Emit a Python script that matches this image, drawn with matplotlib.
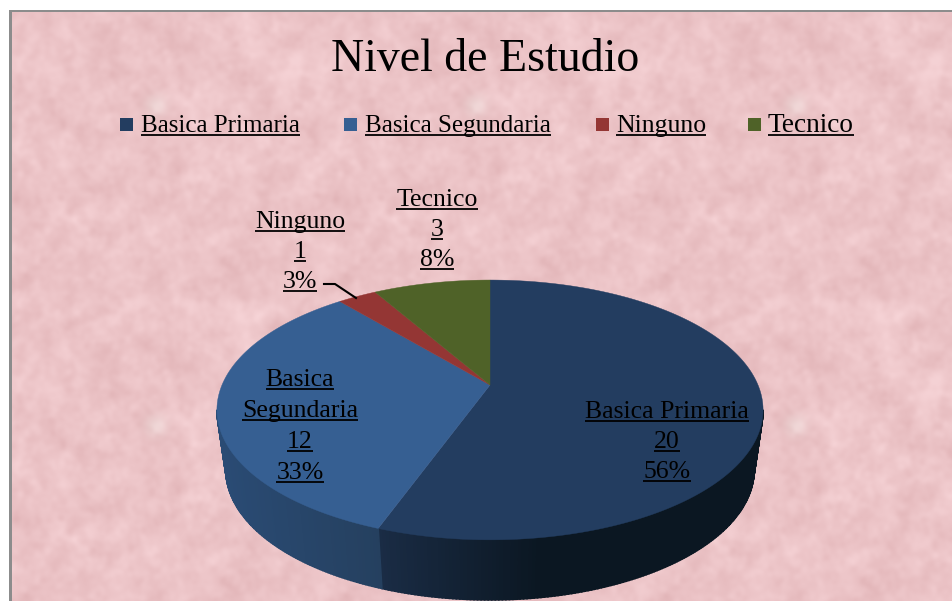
import numpy as np
import matplotlib
matplotlib.use("Agg")
import matplotlib.pyplot as plt
from matplotlib.patches import Polygon, Rectangle
from matplotlib.colors import to_rgb

categories = ["Basica Primaria", "Basica Segundaria", "Ninguno", "Tecnico"]
counts = [20, 12, 1, 3]
title_text = "Nivel de Estudio"

top_colors = ["#233D60", "#365F92", "#943634", "#4F6228"]
side_left = ["#1A2C45", "#2A4B74", "#6E2826", "#3A491E"]
side_right = ["#0B1722", "#25405F", "#6E2826", "#3A491E"]
legend_square_x = [120, 344, 596, 748]
legend_text_x = [141, 365, 616, 768]
legend_sizes = [18, 18.1, 18.5, 19.6]
label_lines = [["Basica Primaria"], ["Basica", "Segundaria"], ["Ninguno"], ["Tecnico"]]
label_x = [667, 300, 300, 437]
label_base_y = [418, 386, 228, 206]
label_step = [30, 31, 30, 30]

plt.rcParams["font.family"] = ["Liberation Serif", "DejaVu Serif"]
W, H = 952, 601
fig = plt.figure(figsize=(W / 100, H / 100), dpi=100, facecolor="white")
ax = fig.add_axes([0, 0, 1, 1])
ax.set_axis_off()


def smooth(rng, n, sigma):
    f = np.fft.fftfreq(n)
    fx, fy = np.meshgrid(f, f)
    g = np.exp(-2 * (np.pi * sigma) ** 2 * (fx ** 2 + fy ** 2))
    a = np.fft.ifft2(np.fft.fft2(rng.standard_normal((n, n))) * g).real
    return a / a.std()


# decorative paper texture, a 320 px tile like the reference background
rng = np.random.default_rng(7)
n = 320
tex = 0.35 * smooth(rng, n, 2.5) + 0.55 * smooth(rng, n, 6.0) + 0.35 * smooth(rng, n, 16.0)
yy, xx = np.mgrid[0:n, 0:n]
spot = np.exp(-(((xx - 143) ** 2 + (yy - 93) ** 2) / (2 * 8.0 ** 2)))
base = np.array([236, 196, 199], float)
img = base[None, None, :] + tex[..., None] * np.array([4.0, 6.0, 6.0]) + spot[..., None] * np.array([0, 13, 10])
img = np.clip(img, 0, 255).astype(np.uint8)
rep = np.tile(img, (3, 4, 1))[:H - 12, :W - 12]
ax.imshow(rep, extent=(12, W, H, 12), interpolation="bilinear", zorder=0, aspect="auto")
ax.add_patch(Rectangle((9, 10), 3, H, fc="#8C8C8C", ec="none", zorder=1))
ax.add_patch(Rectangle((9, 10), W, 2, fc="#8C8C8C", ec="none", zorder=1))
ax.set_xlim(0, W)
ax.set_ylim(H, 0)

# perspective mapping of the pie disc onto the picture
CX, CY, S, K, A = 490.0, 385.0, 268.0, 0.192, 51.2
DEPTH, SHRINK = 60.0, 0.967


def top_pt(theta):
    u, v = np.sin(theta), np.cos(theta)
    w = 1 + K * v
    return CX + S * u / w, (CY - A * v) / w


def low_pt(theta):
    x, y = top_pt(theta)
    return CX + (x - CX) * SHRINK, y + DEPTH


total = sum(counts)
edges = np.concatenate([[0], np.cumsum(counts)]) / total * 2 * np.pi

# side wall
for i in range(len(counts)):
    a0, a1 = max(edges[i], np.radians(101)), min(edges[i + 1], np.radians(259))
    if a1 <= a0:
        continue
    ts = np.linspace(a0, a1, int((a1 - a0) * 90) + 2)
    c0, c1 = np.array(to_rgb(side_left[i])), np.array(to_rgb(side_right[i]))
    for t0, t1 in zip(ts[:-1], ts[1:]):
        xa, ya = top_pt(t0)
        xb, yb = top_pt(t1)
        xc, yc = low_pt(t1)
        xd, yd = low_pt(t0)
        if i == 0:
            f = np.clip((xa - 380) / 160, 0, 1)
        else:
            f = np.clip((xa - 220) / 160, 0, 1)
        col = c1 * f + c0 * (1 - f)
        ax.add_patch(Polygon([(xa, ya), (xb, yb), (xc, yc), (xd, yd)], closed=True,
                             fc=col, ec=col, lw=1.2, zorder=2))

# top face
for i in range(len(counts)):
    ts = np.linspace(edges[i], edges[i + 1], 200)
    pts = [(CX, CY)] + [top_pt(t) for t in ts]
    ax.add_patch(Polygon(pts, closed=True, fc=top_colors[i], ec=top_colors[i], lw=0.3, zorder=3))

fig.canvas.draw()
rend = fig.canvas.get_renderer()


def utext(x, y, s, size, ha="center"):
    t = ax.text(x, y, s, fontsize=size, ha=ha, va="baseline", color="black", zorder=6)
    bb = t.get_window_extent(rend)
    ax.plot([bb.x0, bb.x1], [y + 2.5, y + 2.5], color="black", lw=1.3, zorder=6, solid_capstyle="butt")
    ax.set_xlim(0, W)
    ax.set_ylim(H, 0)
    return t


ax.text(485, 71, title_text, fontsize=33, ha="center", va="baseline", color="black", zorder=6)

# legend
for i, cat in enumerate(categories):
    ax.add_patch(Rectangle((legend_square_x[i], 118), 13, 13, fc=top_colors[i], ec="none", zorder=5))
    utext(legend_text_x[i], 132, cat, legend_sizes[i], ha="left")

# data labels
for i, lines in enumerate(label_lines):
    pct = f"{round(counts[i] / total * 100)}%"
    rows = lines + [str(counts[i]), pct]
    for j, r in enumerate(rows):
        utext(label_x[i], label_base_y[i] + j * label_step[i], r, 18.5)

# leader line for the small slice
ax.plot([324, 335, 356], [284, 284, 298], color="black", lw=1.5, zorder=6)

fig.savefig("out.png", dpi=100, facecolor="white")
